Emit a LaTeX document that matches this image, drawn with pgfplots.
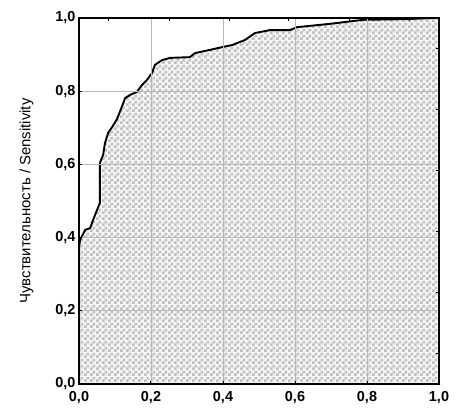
\documentclass[border=0pt]{standalone}
\usepackage{fontspec}
\setmainfont{Liberation Sans}
\usepackage{pgfplots}
\usepackage{pgfplotstable}
\pgfplotsset{compat=1.18}
\usetikzlibrary{calc,patterns}

\pgfdeclarepatternformonly{checker}{\pgfpointorigin}{\pgfpoint{6bp}{6bp}}{\pgfpoint{6bp}{6bp}}{%
  \pgfpathrectangle{\pgfpointorigin}{\pgfpoint{3bp}{3bp}}%
  \pgfpathrectangle{\pgfpoint{3bp}{3bp}}{\pgfpoint{3bp}{3bp}}%
  \pgfusepath{fill}}

\pgfplotstableread{
x y
0 0
0 0.372
0.003 0.393
0.017 0.421
0.031 0.426
0.039 0.448
0.050 0.475
0.058 0.495
0.058 0.604
0.067 0.626
0.072 0.658
0.081 0.686
0.094 0.705
0.106 0.725
0.114 0.745
0.122 0.765
0.128 0.781
0.142 0.790
0.161 0.798
0.175 0.817
0.189 0.831
0.203 0.850
0.211 0.872
0.231 0.885
0.253 0.891
0.308 0.893
0.322 0.904
0.364 0.913
0.400 0.921
0.425 0.926
0.461 0.940
0.489 0.959
0.531 0.967
0.586 0.967
0.606 0.975
0.697 0.984
0.789 0.995
0.911 0.997
0.983 1.000
1.000 1.000
}\roc

\begin{document}
\begin{tikzpicture}
  \begin{axis}[
    name=main,
    scale only axis,
    width=360bp, height=366bp,
    xmin=0, xmax=1, ymin=0, ymax=1,
    xtick={0,0.2,...,1.0}, ytick={0,0.2,...,1.0},
    grid=major,
    grid style={gray!55, line width=0.7bp},
    axis line style={black, line width=1.3bp},
    tick pos=left, tick align=inside,
    major tick length=3bp,
    tick style={black, line width=1bp},
    axis on top,
    /pgf/number format/.cd, fixed, fixed zerofill, precision=1, use comma,
    assume math mode=true,
    /pgfplots/.cd,
    tick label style={font=\bfseries\fontsize{14.5}{16}\selectfont},
    xticklabel style={yshift=-4bp},
    ylabel={Чувствительность / Sensitivity},
    ylabel style={at={(axis description cs:-0.146,0.5)}, anchor=center,
                  font=\fontsize{15}{17}\selectfont},
  ]
  \addplot[draw=none, fill=gray!8, postaction={pattern=checker, pattern color=gray!50}]
    table[x=x, y=y] {\roc} \closedcycle;
  \addplot[black, line width=1.9bp] table[x=x, y=y] {\roc};
  \end{axis}
  \begin{axis}[
    scale only axis,
    width=360bp, height=366bp,
    xmin=0, xmax=1, ymin=0, ymax=1,
    xtick={0.0833,0.25,0.4167,0.5833,0.75,0.9167},
    ytick={0.0833,0.25,0.4167,0.5833,0.75,0.9167},
    xticklabels={}, yticklabels={},
    tick pos=right, tick align=inside,
    major tick length=3bp,
    tick style={black, line width=1bp},
    axis line style={draw=none},
  ]
  \end{axis}
  \path ($(main.south west)+(-79bp,-28bp)$) rectangle ($(main.north east)+(22bp,18bp)$);
\end{tikzpicture}
\end{document}
